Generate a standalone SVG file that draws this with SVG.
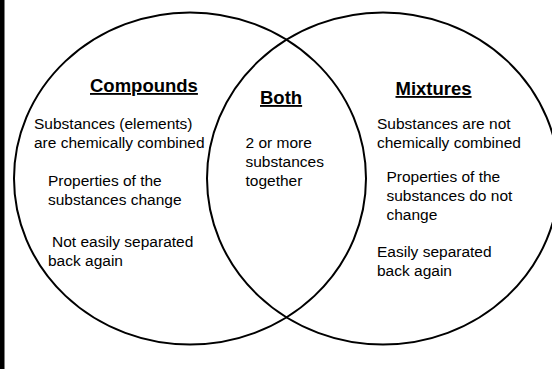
<svg xmlns="http://www.w3.org/2000/svg" width="552" height="369" viewBox="0 0 552 369">
  <style>
    .ring { fill: none; stroke: #000; stroke-width: 2; }
    .t { font-family: "Liberation Sans", Arial, sans-serif; font-size: 15.5px; fill: #000; }
    .h { font-family: "Liberation Sans", Arial, sans-serif; font-size: 18.5px; font-weight: bold; fill: #000; text-decoration: underline; }
  </style>
  <rect x="0" y="0" width="552" height="369" fill="#fff"/>
  <rect x="0" y="0" width="4.5" height="369" fill="#000"/>
  <g id="compounds">
    <ellipse class="ring" cx="190" cy="178.5" rx="176" ry="166"/>
    <text class="h" x="90" y="92">Compounds</text>
    <text class="t" x="34" y="129">Substances (elements)</text>
    <text class="t" x="34" y="148">are chemically combined</text>
    <text class="t" x="48" y="185.5">Properties of the</text>
    <text class="t" x="48" y="204.5">substances change</text>
    <text class="t" x="52" y="246.5">Not easily separated</text>
    <text class="t" x="48" y="265.5">back again</text>
  </g>
  <g id="mixtures">
    <ellipse class="ring" cx="383" cy="178.5" rx="176" ry="166"/>
    <text class="h" x="395.5" y="95">Mixtures</text>
    <text class="t" x="377" y="129">Substances are not</text>
    <text class="t" x="377" y="148">chemically combined</text>
    <text class="t" x="386.5" y="181.5">Properties of the</text>
    <text class="t" x="386.5" y="200.5">substances do not</text>
    <text class="t" x="386.5" y="219.5">change</text>
    <text class="t" x="377" y="256.5">Easily separated</text>
    <text class="t" x="377" y="275.5">back again</text>
  </g>
  <g id="both">
    <text class="h" x="260" y="104">Both</text>
    <text class="t" x="245.5" y="148">2 or more</text>
    <text class="t" x="245.5" y="167">substances</text>
    <text class="t" x="245.5" y="186">together</text>
  </g>
</svg>
